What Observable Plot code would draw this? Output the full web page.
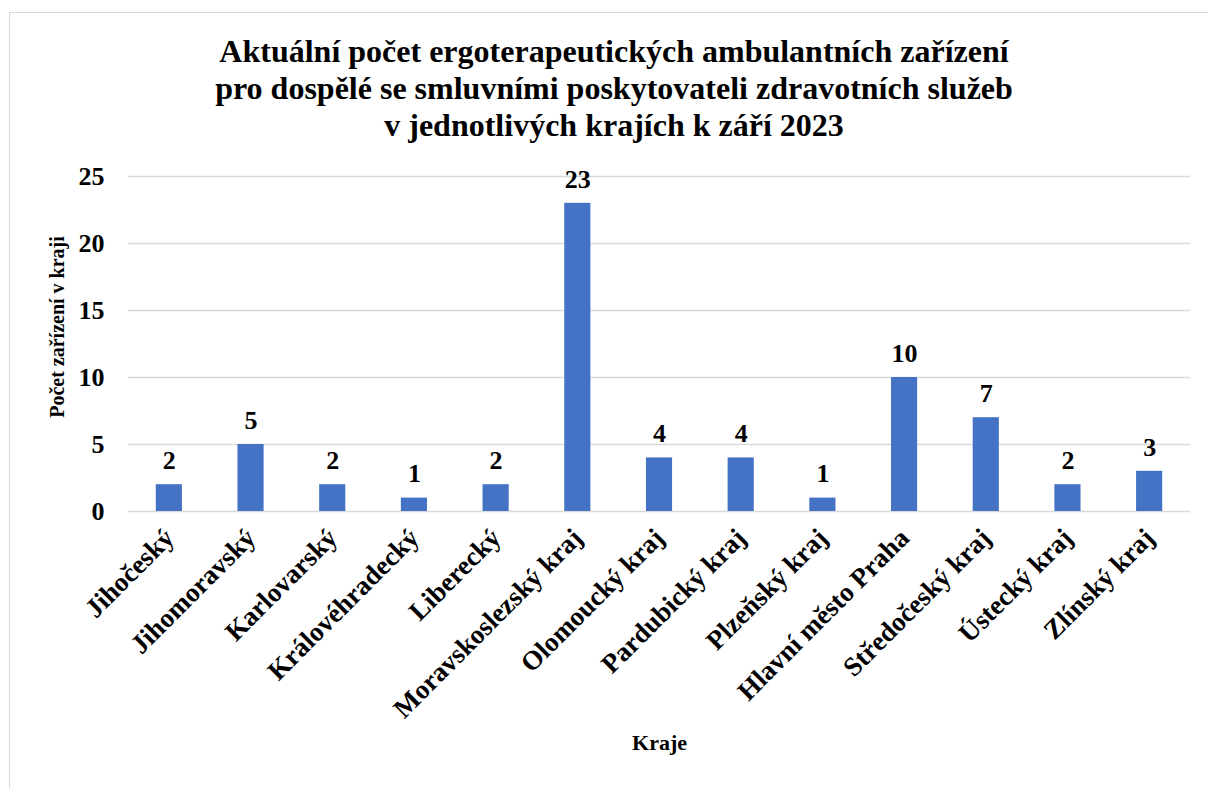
<!DOCTYPE html>
<html>
<head>
<meta charset="utf-8">
<script src="https://cdn.jsdelivr.net/npm/d3@7"></script>
<script src="https://cdn.jsdelivr.net/npm/@observablehq/plot@0.6"></script>
<style>
  html, body { margin: 0; padding: 0; background: #fff; overflow: hidden; }
  #wrap { position: relative; width: 1208px; height: 788px; font-family: "Liberation Serif", "Times New Roman", serif; }
  #border { position: absolute; left: 9px; top: 12px; width: 1260px; height: 820px; border: 1.5px solid #d9d9d9; box-sizing: border-box; }
  #title { position: absolute; left: 9px; width: 1210px; top: 33px; text-align: center; font-weight: bold; font-size: 32px; line-height: 37px; color: #000; z-index: 2; }
  #ytitle { position: absolute; left: 57px; top: 327px; transform: translate(-50%, -50%) rotate(-90deg); white-space: nowrap; font-weight: bold; font-size: 20px; color: #000; z-index: 2; }
  #chart { position: absolute; left: 0; top: 0; }
</style>
</head>
<body>
<div id="wrap">
  <div id="border"></div>
  <div id="title">Aktuální počet ergoterapeutických ambulantních zařízení<br>pro dospělé se smluvními poskytovateli zdravotních služeb<br>v jednotlivých krajích k září 2023</div>
  <div id="ytitle"></div>
  <div id="chart"></div>
</div>
<script>
const categories = ["Jihočeský","Jihomoravský","Karlovarský","Královéhradecký","Liberecký","Moravskoslezský kraj","Olomoucký kraj","Pardubický kraj","Plzeňský kraj","Hlavní město Praha","Středočeský kraj","Ústecký kraj","Zlínský kraj"];
const values = [2, 5, 2, 1, 2, 23, 4, 4, 1, 10, 7, 2, 3];
const yTicks = [0, 5, 10, 15, 20, 25];
const yTitle = "Počet zařízení v kraji";
const xTitle = "Kraje";

document.getElementById("ytitle").textContent = yTitle;

const data = categories.map((c, i) => ({region: c, count: values[i]}));

const chart = Plot.plot({
  width: 1208,
  height: 788,
  marginLeft: 128,
  marginRight: 18,
  marginTop: 176,
  marginBottom: 277,
  style: {fontFamily: "'Liberation Serif','Times New Roman',serif", background: "transparent", color: "#000"},
  x: {domain: categories, paddingInner: 0.68, paddingOuter: 0.34, round: false},
  y: {domain: [0, 25]},
  marks: [
    Plot.gridY({ticks: yTicks, stroke: "#d9d9d9", strokeOpacity: 1, strokeWidth: 1.5}),
    Plot.barY(data, {x: "region", y: "count", fill: "#4472C4"}),
    Plot.text(data, {x: "region", y: "count", text: d => String(d.count), dy: -24, fontSize: 26, fontWeight: "bold", fill: "#000"}),
    Plot.axisY({ticks: yTicks, tickSize: 0, tickPadding: 24, fontSize: 26, fontWeight: "bold", label: null}),
    Plot.axisX({tickSize: 0, tickRotate: -45, tickPadding: 22, fontSize: 27, fontWeight: "bold", label: null}),
    Plot.text([xTitle], {text: d => d, frameAnchor: "bottom", dy: 238, fontSize: 22, fontWeight: "bold", fill: "#000"})
  ]
});
document.getElementById("chart").appendChild(chart);
</script>
</body>
</html>
